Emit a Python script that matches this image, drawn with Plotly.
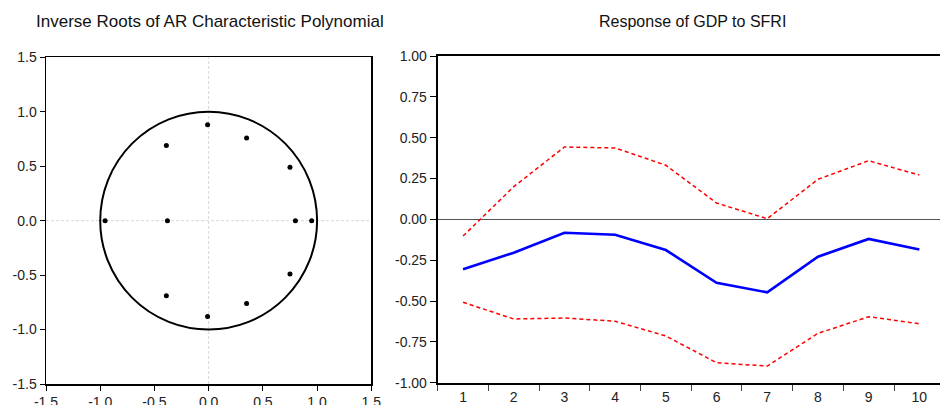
import plotly.graph_objects as go

# ---- Data: inverse roots ----
root_re = [-0.955, -0.38, 0.80, 0.95, -0.39, -0.39, -0.01, -0.01, 0.35, 0.35, 0.75, 0.75]
root_im = [0.0, 0.0, 0.0, 0.0, 0.69, -0.69, 0.88, -0.88, 0.76, -0.76, 0.49, -0.49]

# ---- Data: impulse response ----
periods = ["1", "2", "3", "4", "5", "6", "7", "8", "9", "10"]
response = [-0.306, -0.204, -0.082, -0.094, -0.188, -0.388, -0.447, -0.229, -0.120, -0.184]
upper = [-0.102, 0.20, 0.443, 0.437, 0.331, 0.10, 0.004, 0.245, 0.359, 0.271]
lower = [-0.508, -0.610, -0.604, -0.624, -0.714, -0.878, -0.898, -0.698, -0.596, -0.639]

left_tickvals = [-1.5, -1.0, -0.5, 0.0, 0.5, 1.0, 1.5]
left_ticktext = ["-1.5", "-1.0", "-0.5", "0.0", "0.5", "1.0", "1.5"]
right_tickvals = [-1.0, -0.75, -0.5, -0.25, 0.0, 0.25, 0.5, 0.75, 1.0]
right_ticktext = ["-1.00", "-0.75", "-0.50", "-0.25", "0.00", "0.25", "0.50", "0.75", "1.00"]

title_left = "Inverse Roots of AR Characteristic Polynomial"
title_right = "Response of GDP to SFRI"

FONT = "Liberation Sans, Arial, sans-serif"
W, H = 940, 405

fig = go.Figure()

# Roots
fig.add_trace(go.Scatter(x=root_re, y=root_im, mode="markers",
                         marker=dict(color="black", size=5),
                         xaxis="x", yaxis="y", showlegend=False, hoverinfo="x+y"))

# Impulse response
fig.add_trace(go.Scatter(x=periods, y=upper, mode="lines",
                         line=dict(color="#ff0000", width=1.5, dash="4px,3px"),
                         xaxis="x2", yaxis="y2", showlegend=False))
fig.add_trace(go.Scatter(x=periods, y=lower, mode="lines",
                         line=dict(color="#ff0000", width=1.5, dash="4px,3px"),
                         xaxis="x2", yaxis="y2", showlegend=False))
fig.add_trace(go.Scatter(x=periods, y=response, mode="lines",
                         line=dict(color="#0000ff", width=2.6),
                         xaxis="x2", yaxis="y2", showlegend=False))

# Unit circle and zero guides in the roots panel
fig.add_shape(type="circle", xref="x", yref="y", x0=-1, y0=-1, x1=1, y1=1,
              line=dict(color="black", width=2), layer="below")
fig.add_shape(type="line", xref="x", yref="y domain", x0=0, x1=0, y0=0, y1=1,
              line=dict(color="#d8d8d8", width=1, dash="3px,2px"), layer="below")
fig.add_shape(type="line", xref="x domain", yref="y", x0=0, x1=1, y0=0, y1=0,
              line=dict(color="#d8d8d8", width=1, dash="3px,2px"), layer="below")

tickfont = dict(family=FONT, size=14, color="#222222")

fig.update_layout(
    width=W, height=H,
    margin=dict(l=0, r=0, t=56, b=21, autoexpand=False),
    paper_bgcolor="white", plot_bgcolor="white",
    font=dict(family=FONT, color="#222222"),
    xaxis=dict(domain=[46 / W, 371.3 / W], range=[-1.5, 1.5],
               tickvals=left_tickvals, ticktext=left_ticktext,
               ticks="outside", ticklen=5, tickcolor="black", tickwidth=1,
               showline=True, linecolor="black", linewidth=1.5, mirror=True,
               showgrid=False, zeroline=False, tickfont=tickfont, anchor="y",
               fixedrange=True),
    yaxis=dict(domain=[0, 1 - 1.3 / 328], range=[-1.5, 1.5],
               tickvals=left_tickvals, ticktext=left_ticktext,
               ticks="outside", ticklen=5, tickcolor="black", tickwidth=1,
               showline=True, linecolor="black", linewidth=1.5, mirror=True,
               showgrid=False, zeroline=False, tickfont=tickfont, anchor="x",
               fixedrange=True),
    xaxis2=dict(domain=[437.7 / W, 1.0], type="category", range=[-0.5, 9.407],
                tickson="boundaries", ticks="outside", ticklen=6,
                tickcolor="#444444", tickwidth=1,
                showline=True, linecolor="black", linewidth=2, mirror=True,
                showgrid=False, zeroline=False, tickfont=tickfont, anchor="y2",
                fixedrange=True),
    yaxis2=dict(domain=[1.3 / 328, 1], range=[-1.0, 1.0],
                tickvals=right_tickvals, ticktext=right_ticktext,
                ticks="outside", ticklen=6, tickcolor="black", tickwidth=1,
                showline=True, linecolor="black", linewidth=2, mirror=False,
                showgrid=False, zeroline=True, zerolinecolor="#555555",
                zerolinewidth=1, tickfont=tickfont, anchor="x2",
                fixedrange=True),
    annotations=[
        dict(text=title_left, xref="paper", yref="paper", x=209.5 / W, y=1 + 34 / 328,
             xanchor="center", yanchor="middle", showarrow=False,
             font=dict(family=FONT, size=17, color="#111111")),
        dict(text=title_right, xref="paper", yref="paper", x=692 / W, y=1 + 34 / 328,
             xanchor="center", yanchor="middle", showarrow=False,
             font=dict(family=FONT, size=16, color="#111111")),
    ],
)

fig.write_html("out.html",
               config={"displayModeBar": False, "staticPlot": True},
               post_script="document.body.style.margin='0';document.body.style.overflow='hidden';")
